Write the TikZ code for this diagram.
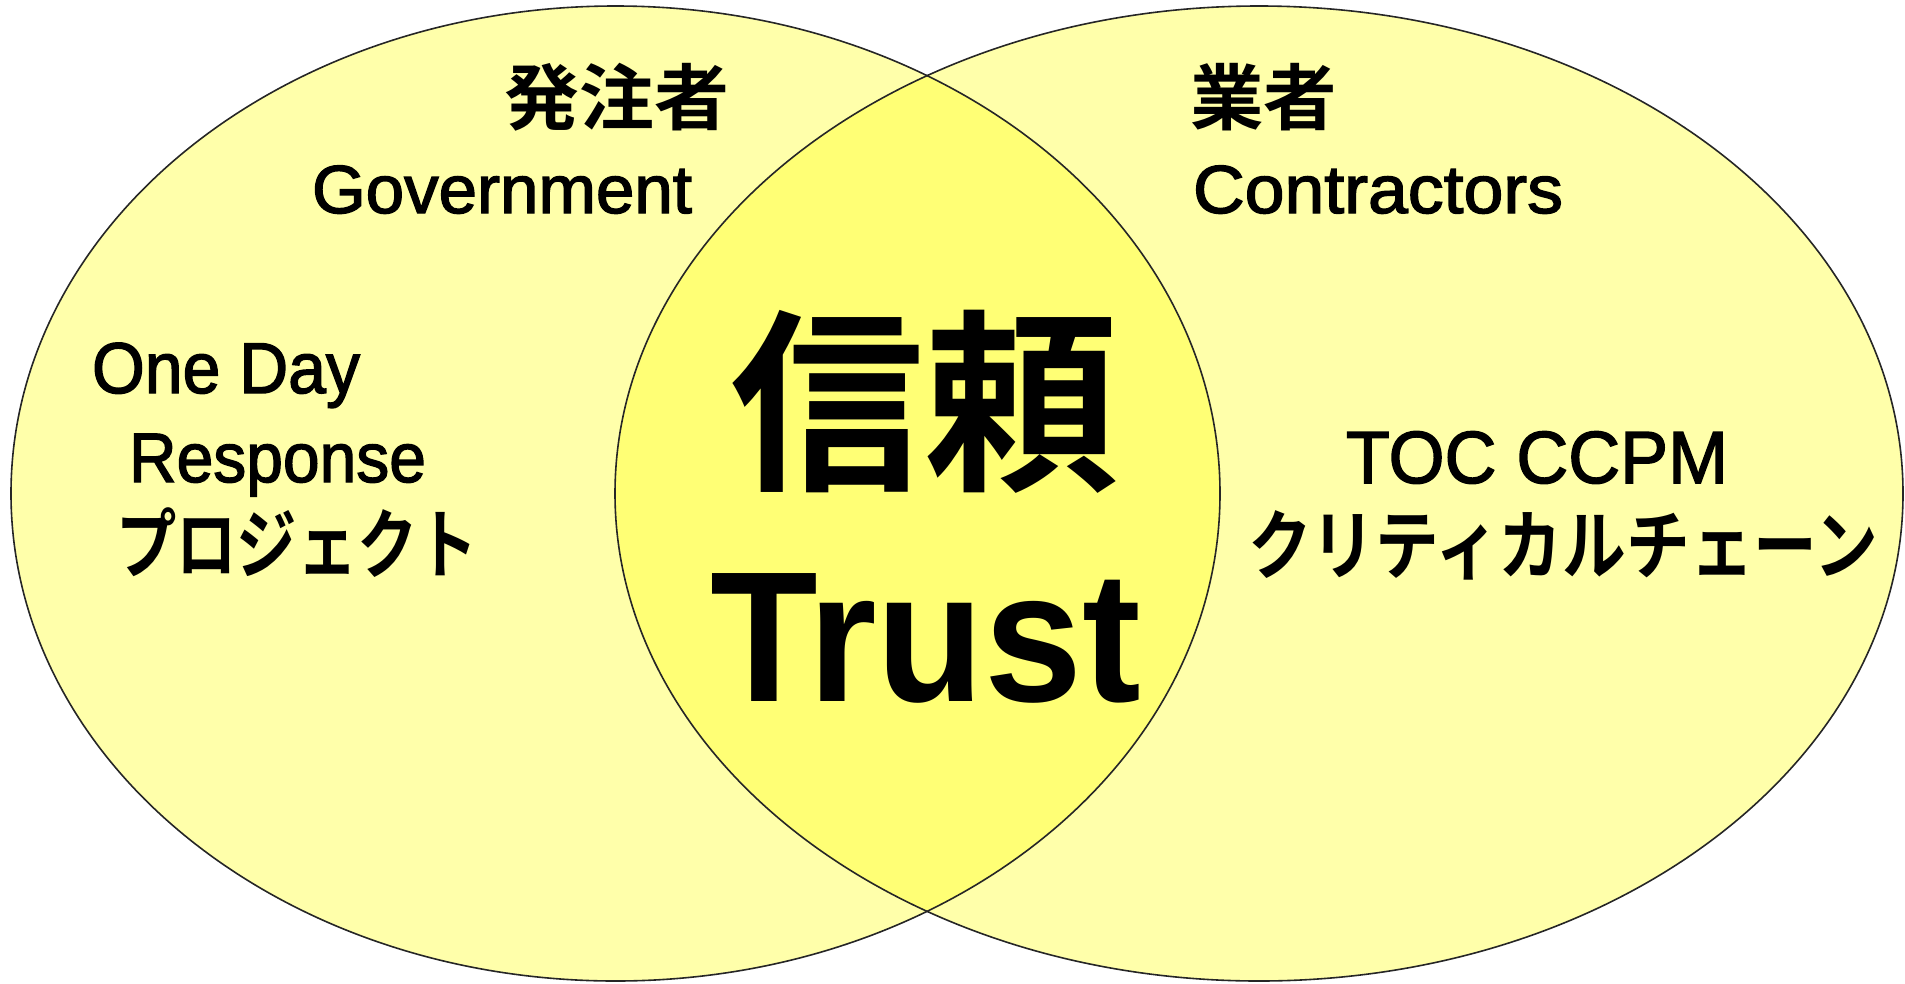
\documentclass[tikz,border=0pt]{standalone}
\usepackage{fontspec}
\usepackage{graphicx}
\setmainfont{Liberation Sans}
\newfontfamily\latm{Liberation Sans}[FakeBold=2]
\newfontfamily\jp{Noto Sans CJK JP Bold}
\definecolor{outerY}{RGB}{255,255,170}
\definecolor{innerY}{RGB}{255,255,117}
\newcommand\fitw[2]{\resizebox{#1pt}{\height}{#2}}
\tikzset{
  venn/.style={draw=black!85, line width=1.6pt},
  lat/.style={inner sep=0pt, anchor=base, text=black},
  cjk/.style={inner sep=0pt, anchor=center, text=black},
}
\begin{document}
\begin{tikzpicture}[x=1pt,y=-1pt]
\useasboundingbox (0,0) rectangle (1905,983);
% fills
\fill[outerY] (615.5,493.5) ellipse [x radius=604.5, y radius=487.5];
\fill[outerY] (1259,493.5) ellipse [x radius=644, y radius=487.5];
\begin{scope}
  \clip (615.5,493.5) ellipse [x radius=604.5, y radius=487.5];
  \fill[innerY] (1259,493.5) ellipse [x radius=644, y radius=487.5];
\end{scope}
% outlines
\draw[venn] (615.5,493.5) ellipse [x radius=604.5, y radius=487.5];
\draw[venn] (1259,493.5) ellipse [x radius=644, y radius=487.5];
% texts
\node[cjk, font=\jp\fontsize{72}{80}\selectfont] (hatchu) at (616.5,97.5) {\fitw{225}{発注者}};
\node[lat, font=\latm\fontsize{68}{76}\selectfont] (gov) at (502,213) {\fitw{380}{Government}};
\node[cjk, font=\jp\fontsize{72}{80}\selectfont] (gyosha) at (1263.5,97.5) {\fitw{147}{業者}};
\node[lat, font=\latm\fontsize{68}{76}\selectfont] (con) at (1378,213) {\fitw{370}{Contractors}};
\node[lat, font=\latm\fontsize{72}{80}\selectfont] (oneday) at (226,393) {\fitw{268}{One Day}};
\node[lat, font=\latm\fontsize{70}{78}\selectfont] (resp) at (277.5,482) {\fitw{297}{Response}};
\node[cjk, font=\jp\fontsize{76}{84}\selectfont] (proj) at (297,543) {\fitw{362}{プロジェクト}};
\node[lat, font=\latm\fontsize{74}{82}\selectfont] (toc) at (1537,483) {\fitw{382}{TOC CCPM}};
\node[cjk, font=\jp\fontsize{76}{84}\selectfont] (crit) at (1563,545.5) {\fitw{630}{クリティカルチェーン}};
\node[cjk, font=\jp\fontsize{195}{210}\selectfont] (shinrai) at (924,402) {\fitw{388}{信頼}};
\node[lat, font=\bfseries\fontsize{186}{200}\selectfont] (trust) at (925.5,701) {\fitw{431}{Trust}};
\end{tikzpicture}
\end{document}
